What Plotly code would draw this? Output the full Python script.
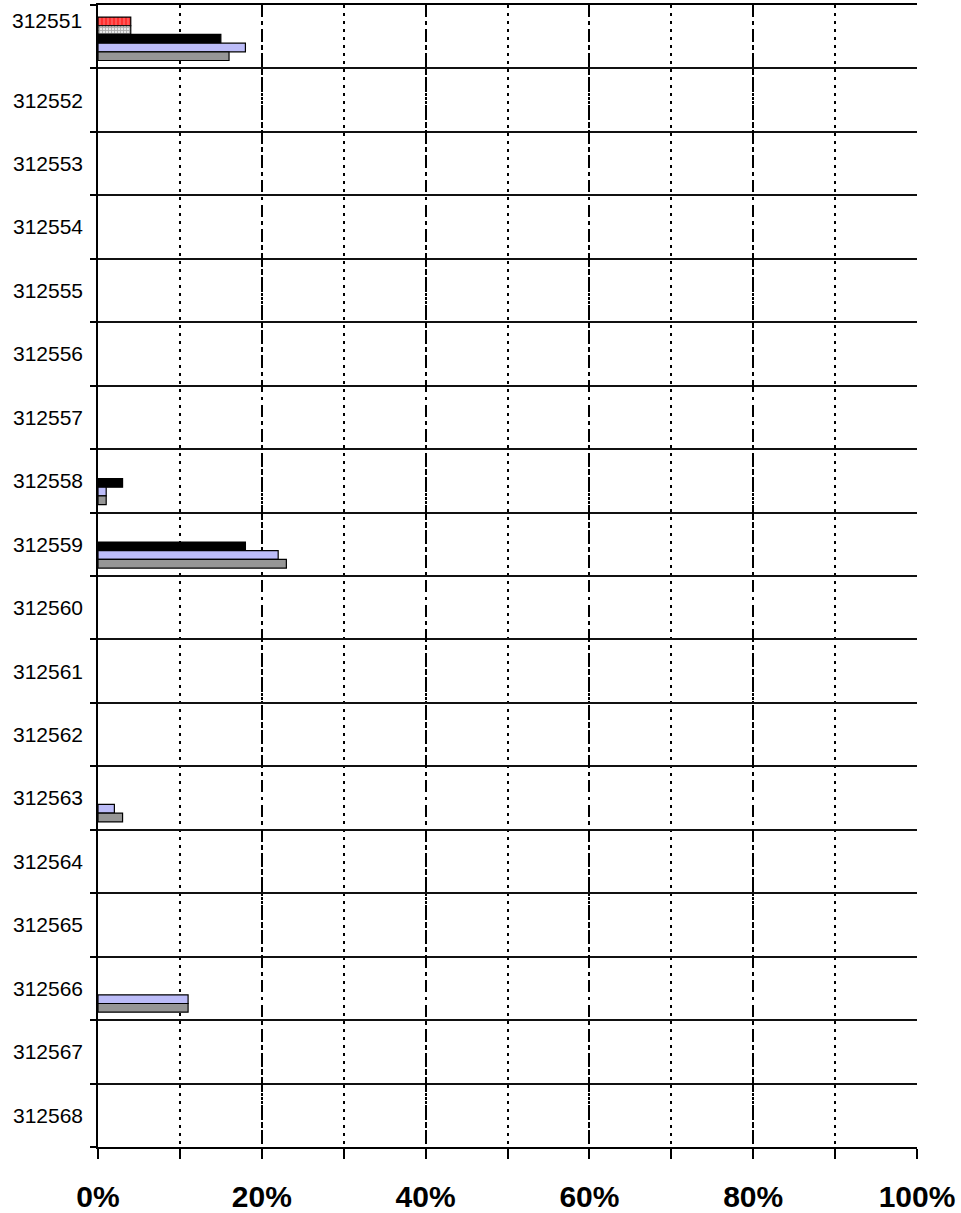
import plotly.graph_objects as go

categories = ["312551", "312552", "312553", "312554", "312555", "312556", "312557", "312558",
              "312559", "312560", "312561", "312562", "312563", "312564", "312565", "312566",
              "312567", "312568"]

red_hatched = [4, None, None, None, None, None, None, None, None, None, None, None, None, None, None, None, None, None]
gray_checkered = [4, None, None, None, None, None, None, None, None, None, None, None, None, None, None, None, None, None]
black_series = [15, None, None, None, None, None, None, 3, 18, None, None, None, None, None, None, None, None, None]
lavender_series = [18, None, None, None, None, None, None, 1, 22, None, None, None, 2, None, None, 11, None, None]
gray_series = [16, None, None, None, None, None, None, 1, 23, None, None, None, 3, None, None, 11, None, None]

x_ticks = [0, 20, 40, 60, 80, 100]
x_tick_labels = ["0%", "20%", "40%", "60%", "80%", "100%"]

FONT = "Liberation Sans, Arial, sans-serif"

n = len(categories)
ypos = list(range(n))
boundaries = [i - 0.5 for i in range(n + 1)]

series = [
    (red_hatched, dict(color="#FF3030", pattern=dict(shape="|", fgcolor="#FFB0B0", bgcolor="#FF3030", size=4, solidity=0.3))),
    (gray_checkered, dict(color="#808080", pattern=dict(shape="+", fgcolor="#707070", bgcolor="#E8E8E8", size=3, solidity=0.5))),
    (black_series, dict(color="#000000")),
    (lavender_series, dict(color="#BCBCF8")),
    (gray_series, dict(color="#969696")),
]

bar_w = 0.137      # bar thickness in band units
group_top = -0.31  # offset of the first bar's top edge from band centre

fig = go.Figure()
for k, (vals, mk) in enumerate(series):
    mk = dict(mk, line=dict(color="#000000", width=1.2))
    fig.add_trace(go.Bar(y=ypos, x=vals, orientation="h", name=f"S{k+1}",
                         width=bar_w, offset=group_top + k * bar_w, marker=mk))

# first category label sits higher in the reference; draw it as an annotation
y_ticktext = [""] + categories[1:]

fig.update_layout(
    width=961, height=1213,
    margin=dict(l=98, r=44, t=5, b=66),
    barmode="overlay",
    plot_bgcolor="white", paper_bgcolor="white",
    showlegend=False,
    font=dict(family=FONT, color="#000000"),
    annotations=[dict(text=categories[0], xref="paper", yref="y", x=0, y=ypos[0],
                      xanchor="right", yanchor="middle", xshift=-14, yshift=16,
                      showarrow=False, font=dict(size=21, family=FONT, color="#000000"))],
)
fig.update_xaxes(
    automargin=False,
    range=[0, 100], tickvals=x_ticks, ticktext=x_tick_labels,
    ticks="outside", ticklen=10, tickwidth=1.5, tickcolor="#000000",
    showline=True, linecolor="#000000", linewidth=1.5, mirror=True,
    showgrid=True, gridcolor="#000000", gridwidth=2, griddash="12px,5px,3px,5px",
    minor=dict(dtick=10, tick0=0, showgrid=True, gridcolor="#000000", gridwidth=2,
               griddash="3px,5px", ticks="outside", ticklen=10, tickwidth=1.5, tickcolor="#000000"),
    tickfont=dict(size=30, family=FONT, weight="bold"),
    ticklabelstandoff=12, zeroline=False,
)
fig.update_yaxes(
    automargin=False,
    range=[n - 0.5, -0.5],
    tickmode="array", tickvals=ypos, ticktext=y_ticktext,
    ticks="", showgrid=False, zeroline=False,
    showline=True, linecolor="#000000", linewidth=1.5,
    minor=dict(tickmode="array", tickvals=boundaries, showgrid=True, gridcolor="#111111", gridwidth=1.5,
               ticks="outside", ticklen=6, tickcolor="#000000", tickwidth=1.5),
    tickfont=dict(size=21, family=FONT),
    ticklabelstandoff=9,
)

fig.write_html("out.html", config={"displayModeBar": False},
               post_script="document.body.style.margin='0';document.body.style.overflow='hidden';")
